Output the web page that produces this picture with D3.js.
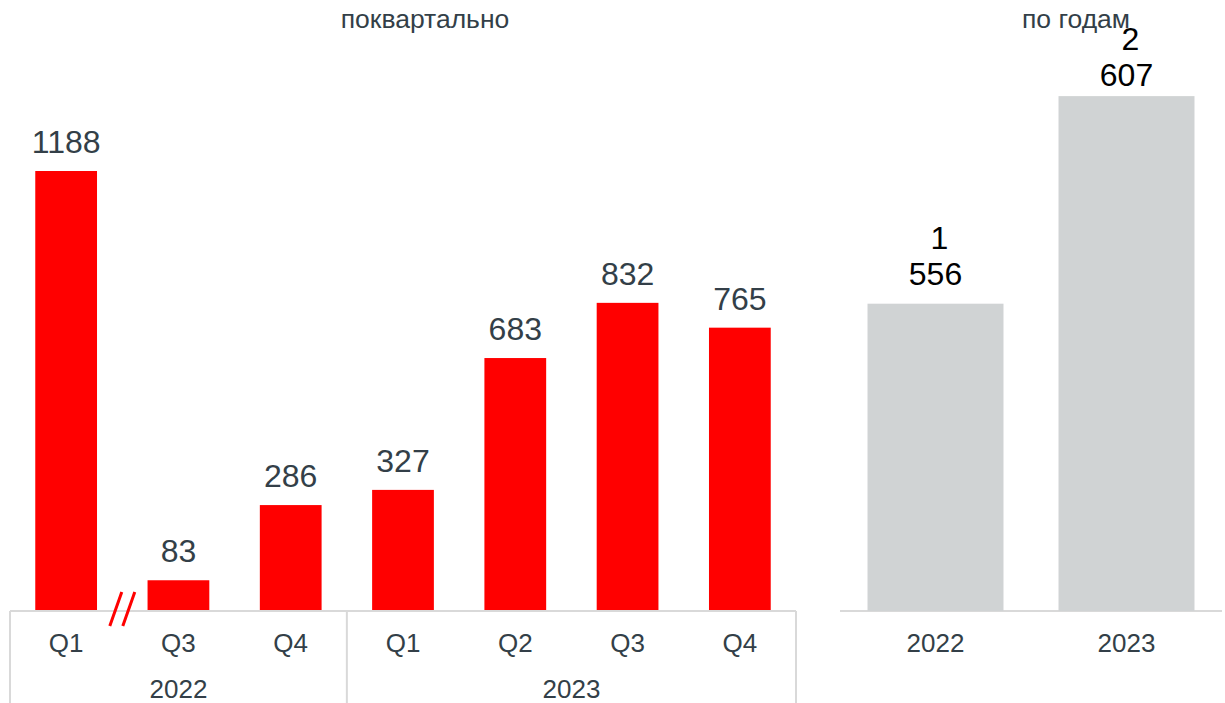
<!DOCTYPE html>
<html>
<head>
<meta charset="utf-8">
<script src="https://cdn.jsdelivr.net/npm/d3@7"></script>
<style>
  html, body { margin: 0; padding: 0; background: #fff; }
  svg { display: block; font-family: Arial, "Liberation Sans", sans-serif; }
</style>
</head>
<body>
<svg id="chart" width="1225" height="703"></svg>
<script>
// Quarterly series (Q2 2022 is omitted, marked by a break)
const quarterLabels = ["Q1", "Q3", "Q4", "Q1", "Q2", "Q3", "Q4"];
const quarterYears  = ["2022", "2022", "2022", "2023", "2023", "2023", "2023"];
const quarterValues = [1188, 83, 286, 327, 683, 832, 765];

// Annual totals
const yearLabels = ["2022", "2023"];
const yearValues = [1556, 2607];

const titles = ["поквартально", "по годам"];

const svg = d3.select("#chart");
const textColor = "#333f48";
const gridColor = "#d9d9d9";
const baseY = 611;

// ---------- quarterly panel ----------
const xq = d3.scaleBand()
  .domain(d3.range(quarterValues.length))
  .range([10, 796])
  .paddingInner(0.45)
  .paddingOuter(0.225);

const yq = d3.scaleLinear().domain([0, 1300]).range([baseY, baseY - 1300 * 0.37037]);

const left = svg.append("g");

left.append("text")
  .attr("x", 425).attr("y", 28)
  .attr("text-anchor", "middle")
  .attr("font-size", 26.5)
  .attr("fill", textColor)
  .text(titles[0]);

left.selectAll("rect.bar")
  .data(quarterValues)
  .join("rect")
  .attr("class", "bar")
  .attr("x", (d, i) => xq(i))
  .attr("width", xq.bandwidth())
  .attr("y", d => yq(d))
  .attr("height", d => yq(0) - yq(d))
  .attr("fill", "#ff0000");

left.selectAll("text.val")
  .data(quarterValues)
  .join("text")
  .attr("class", "val")
  .attr("x", (d, i) => xq(i) + xq.bandwidth() / 2)
  .attr("y", d => yq(d) - 18)
  .attr("text-anchor", "middle")
  .attr("font-size", 32)
  .attr("fill", textColor)
  .text(d => d);

// category axis with grouped year labels
left.append("line")
  .attr("x1", xq.range()[0]).attr("x2", xq.range()[1])
  .attr("y1", baseY).attr("y2", baseY)
  .attr("stroke", gridColor).attr("stroke-width", 2);

left.selectAll("text.q")
  .data(quarterLabels)
  .join("text")
  .attr("class", "q")
  .attr("x", (d, i) => xq(i) + xq.bandwidth() / 2)
  .attr("y", 652)
  .attr("text-anchor", "middle")
  .attr("font-size", 26)
  .attr("fill", textColor)
  .text(d => d);

const groups = d3.groups(d3.range(quarterYears.length), i => quarterYears[i]);
const step = xq.step();
const edge = i => xq(i) - xq.paddingInner() * step / 2;
const dividers = [xq.range()[0]];
groups.forEach(([yr, idx]) => {
  const x0 = edge(idx[0]);
  const x1 = edge(idx[idx.length - 1]) + step;
  dividers.push(Math.min(x1, xq.range()[1]));
  left.append("text")
    .attr("x", (Math.max(x0, xq.range()[0]) + Math.min(x1, xq.range()[1])) / 2)
    .attr("y", 698)
    .attr("text-anchor", "middle")
    .attr("font-size", 26)
    .attr("fill", textColor)
    .text(yr);
});

left.selectAll("line.div")
  .data(dividers)
  .join("line")
  .attr("class", "div")
  .attr("x1", d => d).attr("x2", d => d)
  .attr("y1", baseY).attr("y2", 703)
  .attr("stroke", gridColor).attr("stroke-width", 2);

// axis break between Q1 and Q3 of 2022
const bx = (xq(0) + xq.bandwidth() + xq(1)) / 2;
[-6.5, 6.5].forEach(off => {
  left.append("line")
    .attr("x1", bx + off - 6).attr("y1", 626)
    .attr("x2", bx + off + 6).attr("y2", 592)
    .attr("stroke", "#ff0000").attr("stroke-width", 3);
});

// ---------- annual panel ----------
const xy = d3.scaleBand()
  .domain(yearLabels)
  .range([840, 1222])
  .paddingInner(0.288)
  .paddingOuter(0.144);

const yy = d3.scaleLinear().domain([0, 2800]).range([baseY, baseY - 2800 * 0.1975]);

const right = svg.append("g");

right.append("line")
  .attr("x1", xy.range()[0]).attr("x2", xy.range()[1])
  .attr("y1", baseY).attr("y2", baseY)
  .attr("stroke", gridColor).attr("stroke-width", 2);

right.selectAll("rect.bar")
  .data(yearValues)
  .join("rect")
  .attr("class", "bar")
  .attr("x", (d, i) => xy(yearLabels[i]))
  .attr("width", xy.bandwidth())
  .attr("y", d => yy(d))
  .attr("height", d => yy(0) - yy(d))
  .attr("fill", "#d0d3d4");

right.append("text")
  .attr("x", 1076).attr("y", 28)
  .attr("text-anchor", "middle")
  .attr("font-size", 26.5)
  .attr("fill", textColor)
  .text(titles[1]);

// wrapped value labels ("1 556" breaks onto two lines)
yearValues.forEach((v, i) => {
  const parts = d3.format(",")(v).split(",");
  const cx = xy(yearLabels[i]) + xy.bandwidth() / 2;
  const lineH = 36;
  let lastBase = yy(v) - 19;
  let firstBase = lastBase - (parts.length - 1) * lineH;
  if (firstBase < 50) { lastBase += 50 - firstBase; firstBase = 50; }
  parts.forEach((p, k) => {
    right.append("text")
      .attr("x", cx + (k < parts.length - 1 ? 4 : 0))
      .attr("y", firstBase + k * lineH)
      .attr("text-anchor", "middle")
      .attr("font-size", 32)
      .attr("fill", "#000")
      .text(p);
  });
});

right.selectAll("text.yr")
  .data(yearLabels)
  .join("text")
  .attr("class", "yr")
  .attr("x", d => xy(d) + xy.bandwidth() / 2)
  .attr("y", 652)
  .attr("text-anchor", "middle")
  .attr("font-size", 26)
  .attr("fill", textColor)
  .text(d => d);
</script>
</body>
</html>
